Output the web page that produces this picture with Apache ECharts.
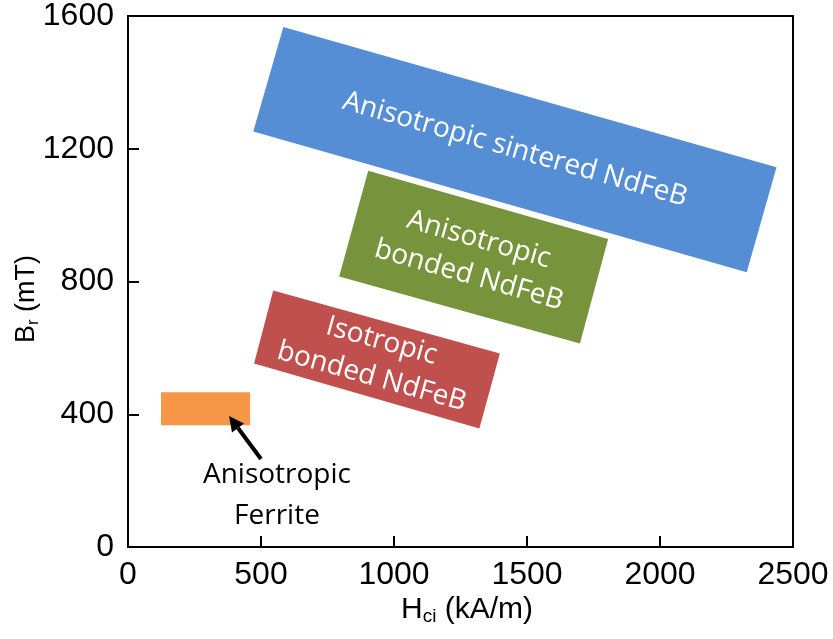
<!DOCTYPE html>
<html><head><meta charset="utf-8">
<script src="https://cdn.jsdelivr.net/npm/echarts@6/dist/echarts.min.js"></script>
<style>html,body{margin:0;padding:0;background:#fff}#c{width:833px;height:639px}</style>
</head><body><div id="c"></div>
<script>
// ---- data ----
const xTicks = [0, 500, 1000, 1500, 2000, 2500];
const yTicks = [0, 400, 800, 1200, 1600];
const regionNames = ['Anisotropic sintered NdFeB', 'Anisotropic\nbonded NdFeB', 'Isotropic\nbonded NdFeB'];
// polygon corners (TL, TR, BR, BL) in Hci (kA/m) and Br (mT)
const sinteredHci = [584, 2438, 2326, 471];
const sinteredBr = [1567, 1144, 828, 1252];
const anisoBondedHci = [903, 1805, 1699, 794];
const anisoBondedBr = [1134, 928, 613, 815];
const isoBondedHci = [546, 1398, 1321, 474];
const isoBondedBr = [773, 583, 357, 553];
// ferrite rectangle: [min, max]
const ferriteHci = [124, 459];
const ferriteBr = [367, 466];
const ferriteLabel = 'Anisotropic\nFerrite';
const regionColors = ['#558ED5', '#77933C', '#C0504D'];
const ferriteColor = '#F79646';

const hciSets = [sinteredHci, anisoBondedHci, isoBondedHci];
const brSets = [sinteredBr, anisoBondedBr, isoBondedBr];
const polyData = hciSets.map((h, i) => {
  const v = [];
  for (let k = 0; k < 4; k++) { v.push(h[k], brSets[i][k]); }
  return v;
});

const chart = echarts.init(document.getElementById('c'));
const TXT = '"Open Sans", "Noto Sans", sans-serif';
const AX = '"Liberation Sans", Arial, sans-serif';

chart.setOption({
  animation: false,
  backgroundColor: '#fff',
  grid: { left: 128, right: 40, top: 15, bottom: 92, show: true, borderColor: '#000', borderWidth: 2, backgroundColor: 'transparent' },
  xAxis: {
    type: 'value', min: xTicks[0], max: xTicks[xTicks.length - 1], interval: xTicks[1] - xTicks[0],
    axisLine: { show: true, lineStyle: { color: '#000', width: 2 } },
    axisTick: { show: true, inside: true, length: 11, lineStyle: { color: '#000', width: 2 } },
    axisLabel: { color: '#000', fontFamily: AX, fontSize: 32, margin: 12, formatter: v => String(v) },
    splitLine: { show: false }
  },
  yAxis: {
    type: 'value', min: yTicks[0], max: yTicks[yTicks.length - 1], interval: yTicks[1] - yTicks[0],
    axisLine: { show: true, lineStyle: { color: '#000', width: 2 } },
    axisTick: { show: true, inside: true, length: 11, lineStyle: { color: '#000', width: 2 } },
    axisLabel: { color: '#000', fontFamily: AX, fontSize: 32, margin: 14, formatter: v => String(v) },
    splitLine: { show: false }
  },
  graphic: [
    {
      type: 'text', x: 27, y: 299, rotation: Math.PI / 2,
      style: {
        text: '{b|B}{s|r}{b| (mT)}', align: 'center', verticalAlign: 'middle',
        rich: {
          b: { fontFamily: AX, fontSize: 27, lineHeight: 30, fill: '#000' },
          s: { fontFamily: AX, fontSize: 17, lineHeight: 13, verticalAlign: 'bottom', fill: '#000' }
        }
      }
    },
    {
      type: 'text', x: 467, y: 610,
      style: {
        text: '{b|H}{s|ci}{b| (kA/m)}', align: 'center', verticalAlign: 'middle',
        rich: {
          b: { fontFamily: AX, fontSize: 30, lineHeight: 32, fill: '#000' },
          s: { fontFamily: AX, fontSize: 19, lineHeight: 13, verticalAlign: 'bottom', fill: '#000' }
        }
      }
    }
  ],
  series: [
    {
      type: 'custom', clip: false, z: 2,
      data: polyData,
      renderItem: function (params, api) {
        const pts = [];
        for (let k = 0; k < 4; k++) pts.push(api.coord([api.value(2 * k), api.value(2 * k + 1)]));
        const cx = (pts[0][0] + pts[1][0] + pts[2][0] + pts[3][0]) / 4;
        const cy = (pts[0][1] + pts[1][1] + pts[2][1] + pts[3][1]) / 4;
        const ang = Math.atan2(pts[1][1] - pts[0][1], pts[1][0] - pts[0][0]);
        return {
          type: 'group',
          children: [
            { type: 'polygon', shape: { points: pts }, style: { fill: regionColors[params.dataIndex] } },
            {
              type: 'text', x: cx, y: cy, rotation: -ang,
              style: {
                text: regionNames[params.dataIndex], fill: '#fff', font: '28px ' + TXT,
                align: 'center', verticalAlign: 'middle', lineHeight: 37
              }
            }
          ]
        };
      }
    },
    {
      type: 'custom', clip: false, z: 2,
      data: [[ferriteHci[0], ferriteBr[0], ferriteHci[1], ferriteBr[1]]],
      renderItem: function (params, api) {
        const p0 = api.coord([api.value(0), api.value(3)]);
        const p1 = api.coord([api.value(2), api.value(1)]);
        // annotation: arrow from label to rectangle, label below
        const tip = api.coord([380, 395]);
        const tail = api.coord([500, 265]);
        const dx = tip[0] - tail[0], dy = tip[1] - tail[1];
        const L = Math.sqrt(dx * dx + dy * dy), ux = dx / L, uy = dy / L;
        const hl = 15, hw = 7.5;
        const base = [tip[0] - ux * hl, tip[1] - uy * hl];
        const lab = api.coord([560, 156]);
        return {
          type: 'group',
          children: [
            { type: 'rect', shape: { x: p0[0], y: p0[1], width: p1[0] - p0[0], height: p1[1] - p0[1] }, style: { fill: ferriteColor } },
            { type: 'line', shape: { x1: tail[0], y1: tail[1], x2: base[0], y2: base[1] }, style: { stroke: '#000', lineWidth: 4 } },
            { type: 'polygon', shape: { points: [tip, [base[0] - uy * hw, base[1] + ux * hw], [base[0] + uy * hw, base[1] - ux * hw]] }, style: { fill: '#000' } },
            {
              type: 'text', x: lab[0], y: lab[1],
              style: { text: ferriteLabel, fill: '#000', font: '28px ' + TXT, align: 'center', verticalAlign: 'middle', lineHeight: 41 }
            }
          ]
        };
      }
    }
  ]
});
</script>
</body></html>
